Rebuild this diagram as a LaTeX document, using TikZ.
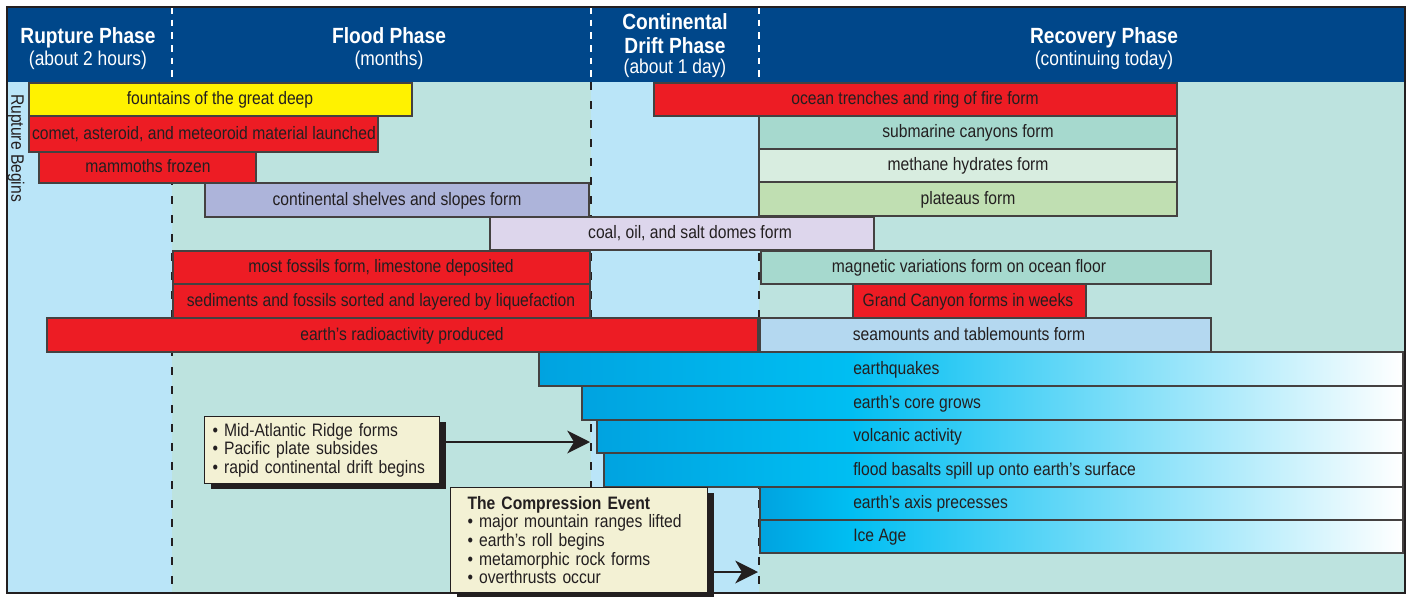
\documentclass[tikz,border=0pt]{standalone}
\usepackage{fontspec}
\setmainfont{Liberation Sans}[FakeStretch=0.87]
\usetikzlibrary{arrows.meta, shadows, positioning}

\definecolor{hdrblue}{RGB}{0,71,138}
\definecolor{colblue}{RGB}{186,229,248}
\definecolor{colteal}{RGB}{189,227,223}
\definecolor{fountyel}{RGB}{255,242,0}
\definecolor{firered}{RGB}{237,28,36}
\definecolor{shelflav}{RGB}{173,180,218}
\definecolor{coallav}{RGB}{221,214,236}
\definecolor{canyonmint}{RGB}{166,217,206}
\definecolor{hydratepale}{RGB}{216,237,224}
\definecolor{plateaugreen}{RGB}{192,223,178}
\definecolor{seablue}{RGB}{180,216,240}
\definecolor{quakedeep}{RGB}{0,163,224}
\definecolor{quakebright}{RGB}{0,190,242}
\definecolor{notecream}{RGB}{243,241,212}
\definecolor{inkdark}{RGB}{35,31,32}

\newcommand{\barfont}{\fontsize{13.5}{13.5}\selectfont}
\newcommand{\notefont}{\fontsize{13.5}{14}\selectfont}

\tikzset{
	phasetitle/.style={font=\fontsize{16.5}{18}\selectfont\bfseries\color{white}, anchor=base, inner sep=0pt}
}
\tikzset{
	phasesub/.style={font=\fontsize{15}{17}\selectfont\color{white}, anchor=base, inner sep=0pt}
}
\tikzset{
	hdrdash/.style={white, line width=1.5pt, dash pattern=on 5pt off 4.5pt},
	phasedash/.style={inkdark, line width=1.8pt, dash pattern=on 6pt off 8.25pt}
}
\tikzset{
	barline/.style={draw=inkdark!85, line width=0.8pt},
	bartext/.style={font=\barfont\color{inkdark}, anchor=base, inner sep=0pt}
}
\tikzset{
	notebox/.style={draw=inkdark, line width=0.9pt, fill=notecream, font=\notefont\color{inkdark},
		align=left, inner ysep=0pt, anchor=north west,
		drop shadow={shadow xshift=4.5pt, shadow yshift=-4pt, fill=inkdark, opacity=1}},
	callarrow/.style={draw=inkdark, line width=1.9pt, -{Stealth[length=17pt, width=17pt, inset=5pt]}}
}

\begin{document}
\begin{tikzpicture}[x=0.75pt, y=-0.75pt]
  \path[fill=white, use as bounding box] (0,0) rectangle (1408,596);
  % columns and heading band
  \fill[colteal] (7,82) rectangle (1405,593);
  \fill[colblue] (7,82) rectangle (172,593);
  \fill[colblue] (591,82) rectangle (759,593);
  \fill[hdrblue] (7,7) rectangle (1405,82);
  \foreach \x in {172,591,759} {
    \draw[hdrdash] (\x,7) -- (\x,82);
    \draw[phasedash] (\x,82) -- (\x,593);
  }

  % phase headings
  \node[phasetitle] (rupture) at (88,43) {Rupture Phase};
  \node[phasesub] (rupture-sub) at (88,65) {(about 2 hours)};
  \node[phasetitle] (flood) at (389,43) {Flood Phase};
  \node[phasesub] (flood-sub) at (389,65) {(months)};
  \node[phasetitle] (drift) at (675,29) {Continental};
  \node[phasetitle] (drift-2) at (675,53) {Drift Phase};
  \node[phasesub] (drift-sub) at (675,73) {(about 1 day)};
  \node[phasetitle] (recovery) at (1104,43) {Recovery Phase};
  \node[phasesub] (recovery-sub) at (1104,65) {(continuing today)};

  \node[font=\barfont\color{inkdark}, rotate=-90, inner sep=0pt] (rupture-begins) at (16,148) {Rupture Begins};

  % event bars
  \foreach \xa/\xb/\ya/\yb/\bcol/\tx/\txt [count=\i] in {
      29/412/83/116/fountyel/220/{fountains of the great deep},
      29/378/116/152/firered/204/{comet, asteroid, and meteoroid material launched},
      39/256/152/183/firered/148/{mammoths frozen},
      205/589/183/217/shelflav/397/{continental shelves and slopes form},
      490/874/217/250/coallav/690/{coal, oil, and salt domes form},
      173/590/251/284/firered/381/{most fossils form, limestone deposited},
      173/590/284/318/firered/381/{sediments and fossils sorted and layered by liquefaction},
      47/758/318/352/firered/402/{earth's radioactivity produced},
      654/1177/83/116/firered/915/{ocean trenches and ring of fire form},
      759/1177/116/149/canyonmint/968/{submarine canyons form},
      759/1177/149/182/hydratepale/968/{methane hydrates form},
      759/1177/182/216/plateaugreen/968/{plateaus form},
      761/1211/251/284/canyonmint/969/{magnetic variations form on ocean floor},
      853/1086/284/318/firered/968/{Grand Canyon forms in weeks},
      760/1211/318/352/seablue/969/{seamounts and tablemounts form}} {
    \draw[barline, fill=\bcol] (\xa,\ya) rectangle (\xb,\yb);
    \node[bartext] (bar\i) at (\tx,{(\ya+\yb)/2+5}) {\txt};
  }

  % ongoing bars, fading out to the present
  \foreach \xa/\ya/\yb/\txt [count=\i] in {
      539/352/386/earthquakes,
      582/386/420/earth's core grows,
      597/420/453/volcanic activity,
      604/453/487/flood basalts spill up onto earth's surface,
      760/487/520/earth's axis precesses,
      760/520/553/Ice Age} {
    \shade[left color=quakedeep, right color=quakebright] (\xa,\ya) rectangle (850,\yb);
    \shade[left color=quakebright, right color=white] (850,\ya) rectangle (1403,\yb);
    \draw[barline] (\xa,\ya) rectangle (1403,\yb);
    \node[bartext, anchor=base west] (ongoing\i) at (853,{(\ya+\yb)/2+5}) {\txt};
  }

  % callouts
  \node[notebox, minimum width=176.25pt, minimum height=50.25pt, text width=164.25pt, inner xsep=6pt]
    (ridge) at (204,416) {\textbullet\ Mid-Atlantic Ridge forms\\
      \textbullet\ Pacific plate subsides\\
      \textbullet\ rapid continental drift begins};
  \node[notebox, minimum width=192.75pt, minimum height=78.75pt, text width=167.25pt, inner xsep=12.75pt]
    (compress) at (450,487) {\textbf{The Compression Event}\\
      \textbullet\ major mountain ranges lifted\\
      \textbullet\ earth's roll begins\\
      \textbullet\ metamorphic rock forms\\
      \textbullet\ overthrusts occur};

  \coordinate (drift-edge) at (590,442);
  \coordinate (recovery-edge) at (758,572);
  \draw[callarrow] (ridge.east |- drift-edge) -- (drift-edge);
  \draw[callarrow] (compress.east |- recovery-edge) -- (recovery-edge);

  % outer frame
  \draw[inkdark, line width=1.5pt] (7,7) rectangle (1405,593);
\end{tikzpicture}
\end{document}
